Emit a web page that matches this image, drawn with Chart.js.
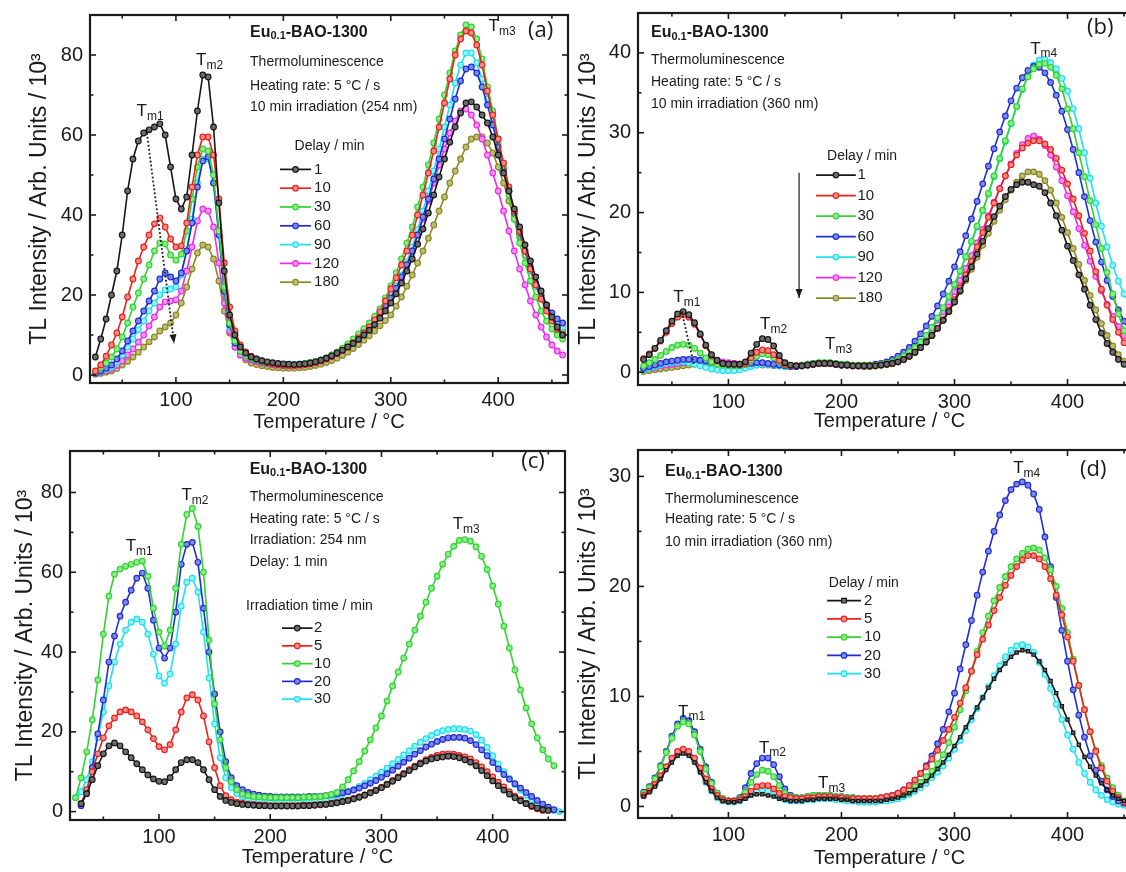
<!DOCTYPE html>
<html>
<head>
<meta charset="utf-8">
<script src="https://cdn.jsdelivr.net/npm/chart.js"></script>
<style>
  html, body { margin: 0; padding: 0; background: #fff; overflow: hidden; width: 1126px; height: 872px; }
  canvas { position: absolute; }
</style>
</head>
<body>
<script>
// temperature axis shared by every curve (°C)
const temps = [
  25, 30, 35, 40, 45, 50, 55, 60, 65, 70,
  75, 80, 85, 90, 95, 100, 105, 110, 115, 120,
  125, 130, 135, 140, 145, 150, 155, 160, 165, 170,
  175, 180, 185, 190, 195, 200, 205, 210, 215, 220,
  225, 230, 235, 240, 245, 250, 255, 260, 265, 270,
  275, 280, 285, 290, 295, 300, 305, 310, 315, 320,
  325, 330, 335, 340, 345, 350, 355, 360, 365, 370,
  375, 380, 385, 390, 395, 400, 405, 410, 415, 420,
  425, 430, 435, 440, 445, 450, 455, 460
];

const xMajorTicks = [100, 200, 300, 400];
const xMinorTicks = [50, 150, 250, 350, 450];

// (a) 254 nm, 10 min irradiation, delay series
const aLabels = ['1', '10', '30', '60', '90', '120', '180'];
const aDelay1 = [
  4.5, 9, 14, 20, 26, 35, 46, 54, 58.5, 60.5,
  61.3, 62, 62.8, 60, 52, 44, 41.5, 44.5, 55, 66,
  75, 74.5, 62, 43, 26, 15, 10, 7, 5.5, 4.5,
  4, 3.6, 3.3, 3.1, 2.9, 2.8, 2.7, 2.6, 2.7, 2.8,
  3, 3.3, 3.7, 4.2, 4.8, 5.5, 6.2, 7, 7.9, 8.9,
  10, 11.2, 12.6, 14.2, 16, 18, 20.3, 23, 26, 29,
  32.7, 36.5, 40.5, 45, 49.5, 54, 58.2, 62, 65.5, 68,
  68.3, 67, 65, 63, 59.5, 55, 50.5, 46, 41.5, 37,
  32.5, 28.5, 24.5, 21, 17.5, 14.5, 12, 10
];
const aDelay10 = [
  1, 2.5, 4.7, 7.5, 10.5, 14.5, 19.5, 24, 28.5, 32,
  35, 37.8, 39.3, 37, 34, 32, 32.3, 38, 47, 55,
  59.5, 59.5, 55, 44, 28, 17, 11, 7.5, 5.8, 4.7,
  4, 3.5, 3.1, 2.8, 2.6, 2.5, 2.4, 2.4, 2.5, 2.6,
  2.8, 3.1, 3.5, 4, 4.6, 5.3, 6.1, 7, 8.1, 9.3,
  10.5, 12, 13.8, 15.8, 18.5, 21.5, 24.3, 27.5, 31, 35,
  40, 45, 50.5, 56, 62, 68, 74, 80, 84, 86,
  85.5, 82.5, 77.5, 71, 65, 59, 53, 47, 41, 36,
  31, 26.5, 22.5, 19, 16, 13.5, 11.5, 10
];
const aDelay30 = [
  0.8, 1.8, 3, 4.5, 6.5, 9.5, 13, 17, 20.5, 24,
  27.5, 31, 33, 32.8, 30, 28.7, 30.2, 36, 44, 52,
  56.5, 56, 50, 36, 22, 13, 8.5, 6, 4.8, 4.2,
  3.7, 3.3, 3, 2.8, 2.7, 2.6, 2.6, 2.6, 2.7, 2.9,
  3.1, 3.4, 3.8, 4.3, 5, 5.8, 6.7, 7.8, 9, 10.3,
  11.6, 13, 14.7, 16.5, 19.3, 22.3, 25.5, 29, 33, 37,
  42, 47, 52.5, 58, 64, 70, 75.5, 81, 85, 87.5,
  87, 84, 79, 72, 66, 59, 52, 45, 39, 33,
  28, 23.5, 19.5, 16, 13.5, 11.5, 10, 9
];
const aDelay60 = [
  0.5, 1, 1.7, 2.5, 4, 6, 8.5, 11, 13.5, 16,
  18.5, 21, 24, 25.5, 24.5, 23.5, 25.5, 31, 38, 47,
  53.5, 54.5, 48, 35, 21, 12.5, 8, 6, 4.8, 4.2,
  3.7, 3.3, 3, 2.8, 2.6, 2.5, 2.5, 2.5, 2.6, 2.8,
  3, 3.3, 3.7, 4.2, 4.8, 5.5, 6.4, 7.4, 8.5, 9.7,
  11, 12.4, 14, 15.7, 17.4, 19.2, 21.7, 24.5, 27.6, 31,
  35, 39.5, 44, 49, 54, 59, 64, 69, 73.5, 76.5,
  77, 75.5, 72, 67.5, 62.5, 57, 51.5, 46, 40.5, 35.5,
  31, 27, 23, 20, 17.5, 15.5, 14, 13
];
const aDelay90 = [
  0.5, 0.9, 1.4, 2, 3.2, 5, 7, 9, 11.3, 13.5,
  16, 18, 20, 21.3, 21.5, 22, 25, 31, 39, 48,
  54, 54, 48, 35, 21, 12, 8, 6, 4.8, 4.2,
  3.7, 3.3, 3, 2.8, 2.6, 2.5, 2.5, 2.5, 2.6, 2.8,
  3, 3.3, 3.7, 4.2, 4.8, 5.5, 6.4, 7.4, 8.5, 9.8,
  11.1, 12.6, 14.2, 16, 17.8, 19.6, 22.2, 25, 28.3, 32,
  36.3, 41, 46, 51, 56.5, 62, 67.5, 73, 77.5, 80.5,
  80.5, 78, 74, 69, 63.5, 58, 52, 46, 40, 35,
  30, 26, 22, 19, 16.5, 14.5, 13, 12
];
const aDelay120 = [
  0.3, 0.7, 1.1, 1.5, 2.4, 3.5, 5, 6.5, 8.2, 10,
  12.3, 14.5, 17, 18.3, 18.5, 18.8, 21, 26, 32, 38.5,
  41.5, 41, 37, 28, 18, 11, 7, 5, 4.2, 3.7,
  3.3, 3, 2.8, 2.6, 2.5, 2.4, 2.4, 2.4, 2.5, 2.7,
  2.9, 3.2, 3.6, 4.1, 4.7, 5.4, 6.3, 7.3, 8.4, 9.6,
  10.9, 12.3, 13.9, 15.6, 17, 18.5, 21, 24, 27.3, 31,
  35, 39, 43.5, 48, 52.5, 56.5, 60.5, 63.5, 66, 66.5,
  65, 62.5, 59, 55, 50.5, 46, 41, 36, 31, 26.5,
  22.5, 18.5, 15, 12, 9.5, 7.5, 6, 5
];
const aDelay180 = [
  0.2, 0.4, 0.7, 1, 1.6, 2.5, 3.4, 4.5, 5.7, 7,
  8.3, 9.5, 11, 12, 13, 15, 18, 22, 26.5, 30.5,
  32.5, 32, 29, 23.5, 16, 10.5, 7, 5, 3.8, 3,
  2.6, 2.3, 2.1, 1.9, 1.8, 1.7, 1.7, 1.7, 1.8, 1.9,
  2.1, 2.4, 2.7, 3.1, 3.6, 4.2, 4.9, 5.7, 6.6, 7.6,
  8.7, 9.8, 11, 12.3, 13.6, 15, 17.2, 19.5, 22.2, 25,
  28, 31, 34.2, 37.5, 41, 44.5, 48, 51, 54, 57,
  59, 59.5, 59.5, 58, 55.5, 52, 48, 43.5, 39, 34.5,
  30, 26, 22.5, 19.5, 17, 14.5, 12.5, 11
];

// (b) 360 nm, 10 min irradiation, delay series
const bLabels = ['1', '10', '30', '60', '90', '120', '180'];
const bDelay1 = [
  1.6, 2.2, 3, 4, 5.2, 6.4, 7.3, 7.6, 7.2, 6.2,
  4.8, 3.4, 2.2, 1.5, 1.1, 1, 1, 1, 1.3, 2.4,
  3.5, 4.2, 4.1, 3.3, 2.1, 1.2, 0.9, 0.8, 0.8, 0.9,
  1, 1.1, 1.1, 1.1, 1, 0.9, 0.9, 0.8, 0.8, 0.8,
  0.8, 0.8, 0.9, 1, 1.1, 1.3, 1.6, 2, 2.5, 3.1,
  3.8, 4.6, 5.5, 6.5, 7.6, 8.8, 10.2, 11.7, 13.2, 14.8,
  16.4, 18, 19.5, 20.8, 22, 22.9, 23.5, 23.8, 23.8, 23.5,
  23.3, 22.5, 21.2, 19.6, 17.8, 15.8, 14, 12.2, 10.4, 8.4,
  6.6, 4.9, 3.6, 2.5, 1.6, 1, 0.6, 0.4
];
const bDelay10 = [
  1.7, 2.3, 3, 3.9, 5, 6.1, 6.9, 7.2, 6.9, 6,
  4.7, 3.3, 2.1, 1.4, 1.1, 1, 1, 0.9, 1.1, 1.8,
  2.5, 2.8, 2.7, 2.2, 1.5, 1, 0.8, 0.8, 0.8, 0.9,
  1, 1.1, 1.1, 1.1, 1, 0.9, 0.9, 0.8, 0.8, 0.8,
  0.8, 0.8, 0.9, 1, 1.1, 1.3, 1.6, 2, 2.5, 3.1,
  3.8, 4.6, 5.5, 6.6, 7.8, 9.1, 10.6, 12.2, 13.9, 15.7,
  17.5, 19.4, 21.2, 23, 24.6, 26, 27.2, 28.1, 28.7, 29,
  29, 28.6, 27.9, 26.8, 25.3, 23.6, 21.7, 19.6, 17.4, 15.2,
  12.6, 10.4, 8.4, 6.6, 5, 3.7, 2.7, 2
];
const bDelay30 = [
  0.8, 1.2, 1.6, 2.1, 2.6, 3.1, 3.4, 3.5, 3.4, 3,
  2.4, 1.8, 1.3, 1, 0.9, 0.8, 0.8, 0.8, 1, 1.5,
  2, 2.3, 2.2, 1.8, 1.3, 0.9, 0.8, 0.8, 0.9, 1,
  1.1, 1.2, 1.2, 1.2, 1.1, 1, 1, 0.9, 0.9, 0.9,
  0.9, 0.9, 1, 1.1, 1.3, 1.6, 2, 2.5, 3.1, 3.8,
  4.6, 5.6, 6.8, 8.1, 9.5, 11, 12.7, 14.5, 16.4, 18.3,
  20.3, 22.4, 24.6, 26.8, 29, 31.2, 33.3, 35.5, 37, 38,
  38.6, 38.7, 38.2, 37.2, 35.5, 33, 30.5, 27.5, 24.5, 21.5,
  18.5, 15.5, 12.5, 9.8, 7.3, 5.2, 3.8, 3
];
const bDelay60 = [
  0.5, 0.7, 0.9, 1.1, 1.3, 1.4, 1.5, 1.6, 1.6, 1.6,
  1.5, 1.4, 1.3, 1.2, 1.1, 1, 0.9, 0.9, 1, 1.1,
  1.2, 1.2, 1.1, 1, 0.9, 0.8, 0.7, 0.7, 0.8, 0.9,
  1, 1.1, 1.1, 1.1, 1, 0.9, 0.9, 0.8, 0.8, 0.8,
  0.9, 1, 1.1, 1.3, 1.6, 2, 2.5, 3.1, 3.9, 4.8,
  5.8, 7, 8.3, 9.8, 11.4, 13.2, 15.1, 17.1, 19.2, 21.4,
  23.6, 25.8, 28, 30.1, 32.1, 34, 35.6, 36.9, 37.8, 38.3,
  38.2, 37.5, 36.3, 34.7, 32.7, 30.4, 27.9, 25, 22, 19,
  16.3, 13.8, 11.5, 9.5, 7.8, 6.4, 5.2, 4.2
];
const bDelay90 = [
  0.3, 0.5, 0.7, 0.9, 1.1, 1.2, 1.3, 1.3, 1.2, 1,
  0.8, 0.6, 0.4, 0.3, 0.2, 0.2, 0.2, 0.3, 0.5, 0.7,
  0.9, 1, 1, 0.9, 0.8, 0.7, 0.7, 0.8, 0.9, 1,
  1.1, 1.2, 1.2, 1.2, 1.1, 1, 1, 0.9, 0.9, 0.9,
  0.9, 0.9, 1, 1.1, 1.3, 1.6, 2, 2.5, 3.1, 3.8,
  4.6, 5.6, 6.7, 8, 9.4, 10.9, 12.6, 14.4, 16.3, 18.2,
  20.2, 22.3, 24.5, 26.7, 28.9, 31.1, 33.3, 35.4, 37.2, 38.5,
  39.1, 39.2, 38.8, 38, 36.8, 35.2, 33, 30.5, 27.5, 24.3,
  21.2, 18.3, 15.7, 13.4, 11.4, 9.8, 8.5, 7.5
];
const bDelay120 = [
  0.4, 0.5, 0.6, 0.8, 0.9, 1, 1.1, 1.2, 1.3, 1.4,
  1.5, 1.5, 1.5, 1.4, 1.3, 1.2, 1.1, 1, 1, 1,
  1, 1, 1, 0.9, 0.9, 0.8, 0.8, 0.8, 0.9, 1,
  1.1, 1.1, 1.1, 1.1, 1, 0.9, 0.9, 0.8, 0.8, 0.8,
  0.8, 0.9, 1, 1.1, 1.3, 1.6, 2, 2.5, 3.1, 3.8,
  4.6, 5.5, 6.5, 7.6, 8.8, 10.1, 11.5, 13, 14.6, 16.2,
  17.9, 19.6, 21.3, 23, 24.6, 26.1, 27.4, 28.5, 29.3, 29.6,
  29.2, 28.4, 27.2, 25.7, 24, 22.1, 20.1, 18, 15.9, 13.9,
  12, 10.2, 8.5, 7, 5.7, 4.6, 3.7, 3
];
const bDelay180 = [
  0.1, 0.2, 0.3, 0.4, 0.5, 0.6, 0.7, 0.8, 0.9, 1,
  1, 1.1, 1.1, 1.1, 1.1, 1.1, 1.1, 1, 1, 1,
  0.9, 0.9, 0.9, 0.8, 0.8, 0.8, 0.8, 0.8, 0.9, 1,
  1, 1.1, 1.1, 1.1, 1, 0.9, 0.9, 0.8, 0.8, 0.7,
  0.7, 0.8, 0.9, 1, 1.1, 1.3, 1.6, 2, 2.5, 3.1,
  3.8, 4.6, 5.5, 6.5, 7.6, 8.8, 10.1, 11.5, 12.9, 14.4,
  15.9, 17.4, 18.9, 20.3, 21.6, 22.8, 23.8, 24.6, 25.1, 25.1,
  24.8, 24, 22.8, 21.2, 19.4, 17.5, 15.5, 13.5, 11.5, 9.6,
  7.8, 6.1, 4.6, 3.3, 2.2, 1.4, 0.9, 0.6
];

// (c) 254 nm, delay 1 min, irradiation time series
const cLabels = ['2', '5', '10', '20', '30'];
const cIrr2 = [
  null, 2, 4.5, 8, 11.5, 14.5, 16.5, 17.2, 16.5, 15,
  13.5, 12, 10.5, 9.2, 8.2, 7.6, 7.5, 8.5, 10.5, 12.3,
  13, 13, 12.3, 10.5, 8, 5.5, 3.8, 2.8, 2.3, 2,
  1.8, 1.7, 1.6, 1.5, 1.5, 1.4, 1.4, 1.4, 1.4, 1.4,
  1.4, 1.5, 1.5, 1.6, 1.7, 1.8, 2, 2.2, 2.5, 2.8,
  3.2, 3.6, 4.1, 4.7, 5.3, 6, 6.8, 7.6, 8.5, 9.4,
  10.3, 11.2, 12, 12.7, 13.2, 13.5, 13.7, 13.9, 13.8, 13.5,
  13, 12.4, 11.5, 10.3, 9, 7.7, 6.5, 5.4, 4.4, 3.5,
  2.7, 2, 1.4, 0.9, 0.5, 0.3, null, null
];
const cIrr5 = [
  null, 2, 5.5, 10, 14.5, 18.5, 21.5, 23.5, 25, 25.5,
  25, 24, 22.5, 20.5, 18.3, 16.3, 15.5, 16.8, 20.5, 25,
  28.5, 29.3, 28, 24, 17.5, 11, 6.5, 4, 3, 2.4,
  2.1, 1.9, 1.8, 1.7, 1.6, 1.5, 1.5, 1.5, 1.5, 1.5,
  1.5, 1.6, 1.6, 1.7, 1.8, 1.9, 2.1, 2.3, 2.6, 2.9,
  3.3, 3.7, 4.2, 4.8, 5.4, 6.1, 6.9, 7.8, 8.7, 9.6,
  10.5, 11.4, 12.2, 13, 13.6, 14.1, 14.4, 14.5, 14.4, 14.1,
  13.7, 13.2, 12.3, 11.2, 10, 8.7, 7.4, 6.2, 5, 3.9,
  3, 2.1, 1.3, 0.7, 0.3, null, null, null
];
const cIrr10 = [
  3.5, 8.5, 15, 23, 33, 44.5, 54, 59.5, 60.8, 61.5,
  62, 62.5, 62.8, 59, 51, 45, 41.5, 45.5, 56, 67,
  74.5, 76, 71.5, 60, 43, 27, 18, 11, 7.5, 5.5,
  4.4, 4, 3.8, 3.7, 3.6, 3.5, 3.5, 3.5, 3.5, 3.5,
  3.5, 3.6, 3.6, 3.7, 3.8, 4, 4.3, 4.8, 6.2, 8,
  10.2, 12.5, 15.2, 18, 21, 24, 27.7, 31.5, 35, 38.5,
  42, 45.5, 49, 52.5, 56, 59, 62, 64.5, 66.5, 68,
  68.2, 67.8, 66.4, 64, 60.7, 56.6, 52, 46.5, 41, 35.5,
  30.5, 26, 22, 18.5, 15.5, 13.2, 11.5, null
];
const cIrr20 = [
  null, 1.5, 5, 11, 19.5, 28, 37.5, 44, 49, 52.5,
  55.5, 58.5, 59.8, 56, 48, 41, 38.5, 41, 50, 62,
  67, 67.5, 62.5, 51, 40, 29.5, 20, 12.5, 8.5, 6.5,
  5.5, 4.8, 4.4, 4.1, 3.9, 3.8, 3.7, 3.7, 3.7, 3.7,
  3.7, 3.7, 3.8, 3.8, 3.9, 4, 4.2, 4.4, 4.7, 5,
  5.4, 5.9, 6.5, 7.1, 7.8, 8.6, 9.5, 10.4, 11.4, 12.4,
  13.4, 14.4, 15.3, 16.2, 16.9, 17.6, 18.1, 18.5, 18.6, 18.6,
  18.4, 17.8, 16.8, 15.5, 14, 12.3, 10.7, 9.3, 8.1, 7,
  5.9, 4.8, 3.8, 2.8, 1.9, 1.1, 0.5, null
];
const cIrr30 = [
  3.5, 5, 8, 12.5, 18.5, 25, 31.5, 37.5, 42, 45.5,
  47.5, 48.3, 47.5, 44.5, 39.5, 34, 32.2, 34.5, 42, 51.5,
  57.5, 58.5, 55, 45, 33.5, 22, 13.5, 8.5, 6, 4.5,
  3.7, 3.2, 2.9, 2.7, 2.5, 2.4, 2.4, 2.4, 2.4, 2.4,
  2.4, 2.5, 2.6, 2.7, 2.9, 3.1, 3.4, 3.8, 4.3, 4.9,
  5.6, 6.3, 7.1, 8, 8.9, 9.9, 10.9, 12, 13.1, 14.2,
  15.3, 16.4, 17.4, 18.3, 19.1, 19.8, 20.3, 20.6, 20.8, 20.8,
  20.6, 20.2, 19.3, 17.9, 16.1, 14, 11.9, 10, 8.3, 6.8,
  5.4, 4.1, 3, 2, 1.2, 0.6, 0.3, 0
];

// (d) 360 nm, 10 min irradiation, legend series
const dLabels = ['2', '5', '10', '20', '30'];
const dDelay2 = [
  0.9, 1.3, 1.8, 2.5, 3.3, 4, 4.6, 4.8, 4.6, 4,
  3.1, 2.2, 1.4, 0.8, 0.5, 0.4, 0.4, 0.5, 0.7, 1,
  1.1, 1.1, 1, 0.9, 0.7, 0.6, 0.5, 0.5, 0.5, 0.6,
  0.6, 0.7, 0.7, 0.7, 0.7, 0.6, 0.6, 0.5, 0.5, 0.5,
  0.5, 0.5, 0.5, 0.6, 0.7, 0.8, 1, 1.2, 1.5, 1.9,
  2.3, 2.8, 3.4, 4, 4.7, 5.5, 6.3, 7.2, 8.1, 9,
  9.9, 10.8, 11.6, 12.4, 13, 13.6, 14, 14.2, 14.1, 13.8,
  13.2, 12.4, 11.4, 10.3, 9.1, 7.9, 6.7, 5.6, 4.5, 3.6,
  2.8, 2.1, 1.5, 1, 0.7, 0.5, 0.3, 0.2
];
const dDelay5 = [
  1, 1.4, 2, 2.8, 3.6, 4.4, 5, 5.2, 5, 4.4,
  3.5, 2.5, 1.6, 1, 0.6, 0.5, 0.5, 0.6, 0.9, 1.4,
  1.8, 1.9, 1.9, 1.6, 1.2, 0.9, 0.8, 0.7, 0.7, 0.8,
  0.8, 0.9, 0.9, 0.9, 0.8, 0.8, 0.7, 0.7, 0.7, 0.7,
  0.7, 0.7, 0.8, 0.9, 1, 1.2, 1.5, 1.9, 2.4, 3,
  3.6, 4.3, 5.1, 6, 7, 8.1, 9.4, 10.8, 12.3, 13.8,
  15.2, 16.5, 17.8, 19, 20.1, 21, 21.8, 22.4, 22.8, 22.8,
  22.5, 21.8, 20.7, 19.2, 17.4, 15.4, 13.2, 11, 8.8, 6.8,
  5, 3.5, 2.3, 1.4, 0.8, 0.4, 0.2, 0.1
];
const dDelay10 = [
  1.2, 1.7, 2.5, 3.6, 4.9, 6.2, 7.3, 7.7, 7.5, 6.5,
  5, 3.4, 2.1, 1.2, 0.7, 0.5, 0.5, 0.7, 1.3, 2.2,
  2.9, 3.3, 3.2, 2.7, 1.9, 1.2, 0.9, 0.8, 0.8, 0.9,
  1, 1, 1, 1, 0.9, 0.9, 0.8, 0.8, 0.7, 0.7,
  0.7, 0.7, 0.7, 0.8, 0.9, 1, 1.2, 1.5, 1.8, 2.2,
  2.7, 3.2, 3.9, 4.7, 5.8, 7.2, 8.8, 10.5, 12.3, 14.1,
  15.8, 17.3, 18.7, 19.9, 20.9, 21.8, 22.5, 23, 23.4, 23.5,
  23.3, 22.6, 21.5, 20, 18, 15.8, 13.4, 11, 8.8, 6.8,
  5.1, 3.7, 2.6, 1.7, 1, 0.5, 0, -0.4
];
const dDelay20 = [
  1.3, 1.8, 2.6, 3.7, 5, 6.4, 7.5, 8, 7.8, 6.8,
  5.2, 3.6, 2.2, 1.2, 0.7, 0.5, 0.5, 0.8, 1.7, 3,
  3.9, 4.4, 4.4, 3.8, 2.7, 1.6, 1, 0.8, 0.8, 0.9,
  1, 1, 1, 1, 0.9, 0.9, 0.8, 0.8, 0.7, 0.7,
  0.7, 0.7, 0.8, 0.9, 1, 1.2, 1.5, 1.9, 2.4, 3,
  3.7, 4.6, 5.7, 7, 8.6, 10.3, 12.5, 14.7, 16.9, 19.2,
  21.3, 23.2, 25, 26.5, 27.8, 28.8, 29.3, 29.5, 29.2, 28.4,
  27, 24.5, 21.8, 19, 16, 13.2, 10.6, 8.3, 6.3, 4.6,
  3.3, 2.3, 1.5, 0.9, 0.5, 0.3, 0.2, 0.1
];
const dDelay30 = [
  1, 1.4, 2, 2.8, 3.6, 4.4, 4.9, 5, 4.8, 4.1,
  3.2, 2.2, 1.4, 0.8, 0.5, 0.4, 0.4, 0.5, 0.8, 1.1,
  1.4, 1.5, 1.4, 1.1, 0.8, 0.6, 0.5, 0.5, 0.5, 0.6,
  0.6, 0.7, 0.7, 0.7, 0.6, 0.6, 0.5, 0.5, 0.4, 0.4,
  0.4, 0.4, 0.5, 0.5, 0.6, 0.7, 0.9, 1.1, 1.4, 1.7,
  2.1, 2.6, 3.1, 3.7, 4.4, 5.2, 6, 6.9, 7.9, 8.9,
  9.9, 10.9, 11.9, 12.8, 13.6, 14.2, 14.6, 14.7, 14.5, 14,
  13.1, 12, 10.7, 9.3, 7.9, 6.5, 5.2, 4, 3, 2.2,
  1.5, 1, 0.6, 0.4, 0.2, 0.1, 0.1, 0
];

const FONT = "'Liberation Sans', Arial, Helvetica, sans-serif";
const INK = '#1a1a1a';
const PT = 24, PR = 6;

const palette = {
  black:   { line: '#161616', fill: '#6e6e6e' },
  red:     { line: '#e8221e', fill: '#f38c88' },
  green:   { line: '#2fd52f', fill: '#8fea8f' },
  blue:    { line: '#1d2ed2', fill: '#7f88ea' },
  cyan:    { line: '#1fe0ee', fill: '#9cf1f8' },
  magenta: { line: '#ea2dea', fill: '#f495f4' },
  olive:   { line: '#8a881f', fill: '#bfbd7c' }
};

function drawMarker(ctx, ds, x, y) {
  ctx.save();
  ctx.fillStyle = ds.pointBackgroundColor;
  ctx.strokeStyle = ds.pointBorderColor;
  ctx.lineWidth = 1.2;
  ctx.beginPath();
  if (ds.pointStyle === 'rect') ctx.rect(x - 2.3, y - 2.3, 4.6, 4.6);
  else ctx.arc(x, y, 2.8, 0, Math.PI * 2);
  ctx.fill();
  ctx.stroke();
  ctx.restore();
}

const decorPlugin = {
  id: 'decor',
  afterDraw(chart, _args, o) {
    const { ctx, chartArea: a } = chart;
    const X = v => chart.scales.x.getPixelForValue(v);
    const Y = v => chart.scales.y.getPixelForValue(v);
    const seg = (x1, y1, x2, y2) => { ctx.beginPath(); ctx.moveTo(x1, y1); ctx.lineTo(x2, y2); ctx.stroke(); };
    const text = (s, x, y, font) => {
      ctx.font = font; ctx.textAlign = 'left'; ctx.textBaseline = 'middle';
      ctx.fillText(s, x, y);
      return ctx.measureText(s).width;
    };

    ctx.save();
    ctx.strokeStyle = INK;
    ctx.fillStyle = INK;

    // inward ticks on all four sides
    ctx.lineWidth = 1.6;
    const xt = (vals, len) => vals.forEach(v => { const p = X(v); seg(p, a.bottom, p, a.bottom - len); seg(p, a.top, p, a.top + len); });
    const yt = (vals, len) => vals.forEach(v => { const p = Y(v); seg(a.left, p, a.left + len, p); seg(a.right, p, a.right - len, p); });
    xt(xMajorTicks, 6); xt(xMinorTicks, 3.5);
    yt(o.yMajor, 6); yt(o.yMinor, 3.5);
    ctx.lineWidth = 2.2;
    ctx.strokeRect(a.left, a.top, a.right - a.left, a.bottom - a.top);

    // sample name with subscript
    let sx = X(o.sample.x);
    const sy = Y(o.sample.y);
    sx += text('Eu', sx, sy, 'bold 16px ' + FONT);
    sx += text('0.1', sx, sy + 4, 'bold 11px ' + FONT);
    text('-BAO-1300', sx, sy, 'bold 16px ' + FONT);

    o.info.forEach(r => text(r.text, X(o.sample.x), Y(r.y), '14px ' + FONT));

    // peak labels T_mX
    o.peaks.forEach(p => {
      const w = text('T', X(p.x), Y(p.y), '17px ' + FONT);
      text(p.sub, X(p.x) + w, Y(p.y) + 5, '12px ' + FONT);
    });

    text(o.tag.text, X(o.tag.x), Y(o.tag.y), "22px 'Open Sans', " + FONT);

    // legend drawn inside the plot
    const L = o.legend;
    text(L.title, X(L.titleX), Y(L.titleY), '14px ' + FONT);
    chart.data.datasets.forEach((ds, i) => {
      const yy = Y(L.rowY) + i * L.step;
      const x1 = X(L.x1), x2 = X(L.x2);
      ctx.strokeStyle = ds.borderColor;
      ctx.lineWidth = 1.7;
      seg(x1, yy, x2, yy);
      drawMarker(ctx, ds, (x1 + x2) / 2, yy);
      ctx.fillStyle = INK;
      text(ds.label, X(L.tx), yy, '15px ' + FONT);
    });

    // arrows / guide lines
    (o.arrows || []).forEach(ar => {
      const x1 = X(ar.from[0]), y1 = Y(ar.from[1]), x2 = X(ar.to[0]), y2 = Y(ar.to[1]);
      ctx.strokeStyle = INK;
      ctx.fillStyle = INK;
      ctx.lineWidth = ar.dotted ? 1.8 : 1.2;
      ctx.setLineDash(ar.dotted ? [1.8, 2.2] : []);
      seg(x1, y1, x2, y2);
      ctx.setLineDash([]);
      if (ar.head) {
        const ang = Math.atan2(y2 - y1, x2 - x1);
        ctx.beginPath();
        ctx.moveTo(x2, y2);
        ctx.lineTo(x2 - 9 * Math.cos(ang) + 3.5 * Math.sin(ang), y2 - 9 * Math.sin(ang) - 3.5 * Math.cos(ang));
        ctx.lineTo(x2 - 9 * Math.cos(ang) - 3.5 * Math.sin(ang), y2 - 9 * Math.sin(ang) + 3.5 * Math.cos(ang));
        ctx.closePath();
        ctx.fill();
      }
    });
    ctx.restore();
  }
};

function makePanel(geo, yRange, yMajor, series, decor) {
  const cv = document.createElement('canvas');
  const w = geo.yw + (geo.right - geo.left) + PR;
  const h = PT + (geo.bottom - geo.top) + geo.xh;
  cv.width = w; cv.height = h;
  cv.style.width = w + 'px'; cv.style.height = h + 'px';
  cv.style.left = (geo.left - geo.yw) + 'px';
  cv.style.top = (geo.top - PT) + 'px';
  document.body.appendChild(cv);

  const yTitleFont = 23;
  const yTitlePad = geo.titleCx - (geo.left - geo.yw) - yTitleFont * 0.6;

  new Chart(cv, {
    type: 'line',
    data: {
      datasets: series.map(s => ({
        label: s.label,
        data: temps.map((t, i) => ({ x: t, y: s.values[i] })),
        borderColor: palette[s.color].line,
        backgroundColor: palette[s.color].fill,
        pointBackgroundColor: palette[s.color].fill,
        pointBorderColor: palette[s.color].line,
        pointStyle: s.style || 'circle',
        pointRadius: s.style === 'rect' ? 2.3 : 2.8,
        pointBorderWidth: 1.2,
        borderWidth: 1.6,
        tension: 0,
        spanGaps: false
      }))
    },
    options: {
      responsive: false,
      animation: false,
      devicePixelRatio: 1,
      events: [],
      layout: { padding: { top: PT, right: PR, left: 0, bottom: 0 } },
      plugins: { legend: { display: false }, tooltip: { enabled: false }, decor: decor },
      scales: {
        x: {
          type: 'linear', min: 20, max: 465,
          grid: { display: false, drawTicks: false },
          border: { display: false },
          afterBuildTicks: s => { s.ticks = xMajorTicks.map(v => ({ value: v })); },
          afterFit: s => { s.height = geo.xh; },
          ticks: { color: INK, font: { family: FONT, size: 20 }, padding: 5, maxRotation: 0, autoSkip: false },
          title: { display: true, text: 'Temperature / °C', color: INK, font: { family: FONT, size: 20 }, padding: { top: 0, bottom: 0 } }
        },
        y: {
          type: 'linear', min: yRange[0], max: yRange[1],
          grid: { display: false, drawTicks: false },
          border: { display: false },
          afterBuildTicks: s => { s.ticks = yMajor.map(v => ({ value: v })); },
          afterFit: s => { s.width = geo.yw; },
          ticks: { color: INK, font: { family: FONT, size: 20 }, padding: 7, autoSkip: false },
          title: { display: true, text: 'TL Intensity / Arb. Units / 10³', color: INK, font: { family: FONT, size: yTitleFont }, padding: { top: yTitlePad, bottom: 0 } }
        }
      }
    },
    plugins: [decorPlugin]
  });
}

// panel (a)
makePanel(
  { left: 90, top: 15, right: 568, bottom: 383, yw: 80, titleCx: 40, xh: 51 },
  [-2, 90], [0, 20, 40, 60, 80],
  [
    { label: aLabels[0], values: aDelay1, color: 'black' },
    { label: aLabels[1], values: aDelay10, color: 'red' },
    { label: aLabels[2], values: aDelay30, color: 'green' },
    { label: aLabels[3], values: aDelay60, color: 'blue' },
    { label: aLabels[4], values: aDelay90, color: 'cyan' },
    { label: aLabels[5], values: aDelay120, color: 'magenta' },
    { label: aLabels[6], values: aDelay180, color: 'olive' }
  ],
  {
    yMajor: [0, 20, 40, 60, 80], yMinor: [10, 30, 50, 70],
    sample: { x: 169, y: 85.7 },
    info: [
      { y: 78.2, text: 'Thermoluminescence' },
      { y: 72.2, text: 'Heating rate: 5 °C / s' },
      { y: 66.9, text: '10 min irradiation (254 nm)' }
    ],
    peaks: [{ x: 63.3, y: 65.9, sub: 'm1' }, { x: 118.7, y: 78.7, sub: 'm2' }, { x: 391, y: 87.1, sub: 'm3' }],
    tag: { x: 427.8, y: 86, text: '(a)' },
    legend: { title: 'Delay / min', titleX: 210.4, titleY: 57.1, rowY: 51.4, step: 18.8, x1: 196.9, x2: 225.8, tx: 228.6 },
    arrows: [{ from: [72.5, 61.5], to: [98.3, 7.9], dotted: true, head: true }]
  }
);

// panel (b)
makePanel(
  { left: 638, top: 13, right: 1141, bottom: 385, yw: 80, titleCx: 589, xh: 48 },
  [-1.6, 45], [0, 10, 20, 30, 40],
  [
    { label: bLabels[0], values: bDelay1, color: 'black' },
    { label: bLabels[1], values: bDelay10, color: 'red' },
    { label: bLabels[2], values: bDelay30, color: 'green' },
    { label: bLabels[3], values: bDelay60, color: 'blue' },
    { label: bLabels[4], values: bDelay90, color: 'cyan' },
    { label: bLabels[5], values: bDelay120, color: 'magenta' },
    { label: bLabels[6], values: bDelay180, color: 'olive' }
  ],
  {
    yMajor: [0, 10, 20, 30, 40], yMinor: [5, 15, 25, 35],
    sample: { x: 31.5, y: 42.5 },
    info: [
      { y: 39.1, text: 'Thermoluminescence' },
      { y: 36.4, text: 'Heating rate: 5 °C / s' },
      { y: 33.6, text: '10 min irradiation (360 nm)' }
    ],
    peaks: [{ x: 51.2, y: 9.4, sub: 'm1' }, { x: 128, y: 6.0, sub: 'm2' }, { x: 185.5, y: 3.5, sub: 'm3' }, { x: 367, y: 40.5, sub: 'm4' }],
    tag: { x: 417.3, y: 43.2, text: '(b)' },
    legend: { title: 'Delay / min', titleX: 187.3, titleY: 27.1, rowY: 24.7, step: 20.5, x1: 177.5, x2: 212.7, tx: 214.2 },
    arrows: [
      { from: [162.5, 25], to: [162.5, 9.3], dotted: false, head: true },
      { from: [58.7, 7.6], to: [69.5, 0.9], dotted: true, head: false }
    ]
  }
);

// panel (c)
makePanel(
  { left: 70, top: 451, right: 565, bottom: 820, yw: 70, titleCx: 26, xh: 49 },
  [-2.1, 90.4], [0, 20, 40, 60, 80],
  [
    { label: cLabels[0], values: cIrr2, color: 'black' },
    { label: cLabels[1], values: cIrr5, color: 'red' },
    { label: cLabels[2], values: cIrr10, color: 'green' },
    { label: cLabels[3], values: cIrr20, color: 'blue' },
    { label: cLabels[4], values: cIrr30, color: 'cyan' }
  ],
  {
    yMajor: [0, 20, 40, 60, 80], yMinor: [10, 30, 50, 70],
    sample: { x: 181.5, y: 85.8 },
    info: [
      { y: 78.8, text: 'Thermoluminescence' },
      { y: 73.3, text: 'Heating rate: 5 °C / s' },
      { y: 68.1, text: 'Irradiation: 254 nm' },
      { y: 62.5, text: 'Delay: 1 min' }
    ],
    peaks: [{ x: 70.1, y: 66.5, sub: 'm1' }, { x: 120.2, y: 79.3, sub: 'm2' }, { x: 364, y: 72, sub: 'm3' }],
    tag: { x: 425.6, y: 87.8, text: '(c)' },
    legend: { title: 'Irradiation time / min', titleX: 178.3, titleY: 51.5, rowY: 46, step: 17.75, x1: 210.6, x2: 238, tx: 239.4 }
  }
);

// panel (d)
makePanel(
  { left: 638, top: 450, right: 1141, bottom: 818, yw: 80, titleCx: 589, xh: 52 },
  [-1.05, 32.4], [0, 10, 20, 30],
  [
    { label: dLabels[0], values: dDelay2, color: 'black', style: 'rect' },
    { label: dLabels[1], values: dDelay5, color: 'red' },
    { label: dLabels[2], values: dDelay10, color: 'green' },
    { label: dLabels[3], values: dDelay20, color: 'blue' },
    { label: dLabels[4], values: dDelay30, color: 'cyan' }
  ],
  {
    yMajor: [0, 10, 20, 30], yMinor: [5, 15, 25],
    sample: { x: 43.9, y: 30.4 },
    info: [
      { y: 27.9, text: 'Thermoluminescence' },
      { y: 26.1, text: 'Heating rate: 5 °C / s' },
      { y: 24.0, text: '10 min irradiation (360 nm)' }
    ],
    peaks: [{ x: 55.4, y: 8.6, sub: 'm1' }, { x: 127, y: 5.3, sub: 'm2' }, { x: 179.3, y: 2.1, sub: 'm3' }, { x: 351.9, y: 30.7, sub: 'm4' }],
    tag: { x: 411, y: 30.6, text: '(d)' },
    legend: { title: 'Delay / min', titleX: 188.8, titleY: 20.3, rowY: 18.7, step: 18.25, x1: 187.3, x2: 217.3, tx: 220 }
  }
);
</script>
</body>
</html>
